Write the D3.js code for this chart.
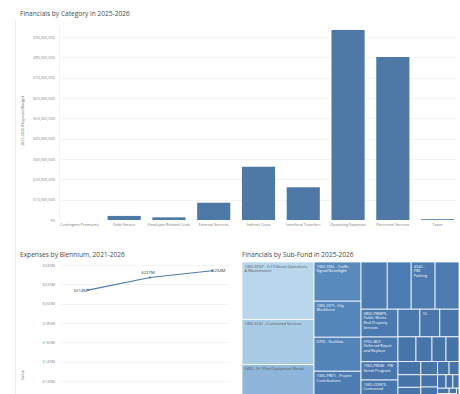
<!DOCTYPE html>
<html><head><meta charset="utf-8">
<script src="https://cdn.jsdelivr.net/npm/d3@7"></script>
<style>
html,body{margin:0;padding:0;background:#fff;overflow:hidden}
svg{display:block;font-family:"Open Sans",sans-serif}
</style></head><body>
<svg id="c" width="460" height="394"></svg>
<script>
// ---- data ----
const categories = ["Contingent Premiums","Debt Service","Employee Related Costs","External Services","Indirect Costs","Interfund Transfers","Operating Expenses","Personnel Services","Taxes"];
const budgetValues = [0, 2000000, 1300000, 8500000, 26200000, 16100000, 93500000, 80200000, 400000];
const budgetTicks = [0,10000000,20000000,30000000,40000000,50000000,60000000,70000000,80000000,90000000];

const biennia = ["2021-2022","2023-2024","2025-2026"];
const expenses = [214, 227, 234]; // $M
const expenseTicks = [120,140,160,180,200,220,240];

const subFundNames = [
 "1065-STOP - Fr13 Street Operations & Maintenance",
 "1065-ECS1 - Contracted Services",
 "0400 - Fr1 Fleet Equipment Rental",
 "1060-TSSL - Traffic Signal/Streetlight",
 "1065-CITY - City Workforce",
 "0700 - Facilities",
 "1065-PRD1 - Project Contributions",
 "", "", "4340 - PBE Parking", "",
 "0800-PWBPS - Public Works Real Property Services",
 "0702-BDF - Deferred Repair and Replace",
 "1060-PRGM - PW Street Program",
 "1060-CONTS - Contracted",
 "", "10-", "",
 "", "", "", "",
 "", "", "", "", "", "", "", "", "", "", "", "", "", "", "", ""
];
const subFundValues = [4044,3194,2345,1801,1659,1564,1232,1210,1104,1104,1104,1007,895,660,650,594,540,520,432,384,336,312,300,280,240,220,200,180,150,130,110,90,80,60,50,40,30,25];

// ---- drawing ----
const svg = d3.select("#c");
const titleColor = "#4a4a4a";

// dashboard divider
svg.append("line").attr("x1",15.5).attr("x2",15.5).attr("y1",20).attr("y2",394).attr("stroke","#ececec");

// ===== Top bar chart =====
svg.append("text").attr("x",20).attr("y",16).attr("font-size",6.6).attr("fill",titleColor).text("Financials by Category in 2025-2026");

const xTop = d3.scaleBand().domain(categories).range([57,460]).paddingInner(0.26).paddingOuter(0.13);
const yTop = d3.scaleLinear().domain([0,95000000]).range([220,26.9]);

const gy = svg.append("g").attr("transform","translate(59,0)")
  .call(d3.axisLeft(yTop).tickValues(budgetTicks).tickSize(0).tickPadding(4)
    .tickFormat(d => "$" + d3.format(",")(d)));
gy.select(".domain").remove();
gy.selectAll("text").attr("font-size",3.9).attr("fill","#888").attr("font-family","'Open Sans',sans-serif");
svg.append("g").selectAll("line").data(budgetTicks.filter(d=>d>0)).join("line")
  .attr("x1",60).attr("x2",457).attr("y1",d=>Math.round(yTop(d))+0.5).attr("y2",d=>Math.round(yTop(d))+0.5)
  .attr("stroke","#f1f1f1").attr("stroke-width",0.8);
svg.append("line").attr("x1",59.5).attr("x2",59.5).attr("y1",26).attr("y2",220).attr("stroke","#f3f3f3");

svg.append("g").selectAll("rect").data(categories).join("rect")
  .attr("x",d=>xTop(d)).attr("width",xTop.bandwidth())
  .attr("y",(d,i)=>yTop(budgetValues[i])).attr("height",(d,i)=>yTop(0)-yTop(budgetValues[i]))
  .attr("fill","#4e79a7");

const gx = svg.append("g").attr("transform","translate(0,220)")
  .call(d3.axisBottom(xTop).tickSize(0).tickPadding(3));
gx.select(".domain").remove();
gx.selectAll("text").attr("font-size",3.8).attr("fill","#777").attr("font-family","'Open Sans',sans-serif");

svg.append("text").attr("transform","translate(24,121) rotate(-90)").attr("text-anchor","middle")
  .attr("font-size",3.8).attr("fill","#666").text("2025-2026 Proposed Budget");

// ===== Bottom-left line chart =====
svg.append("text").attr("x",20).attr("y",257).attr("font-size",6.6).attr("fill",titleColor).text("Expenses by Biennium, 2021-2026");
const xL = d3.scalePoint().domain(biennia).range([57,243]).padding(0.5);
const yL = d3.scaleLinear().domain([100,240]).range([400.3,265]);
const gyl = svg.append("g").attr("transform","translate(59,0)")
  .call(d3.axisLeft(yL).tickValues(expenseTicks).tickSize(0).tickPadding(4).tickFormat(d=>"$"+d+"M"));
gyl.select(".domain").remove();
gyl.selectAll("text").attr("font-size",3.9).attr("fill","#888").attr("font-family","'Open Sans',sans-serif");
svg.append("g").selectAll("line").data(expenseTicks).join("line")
  .attr("x1",60).attr("x2",230).attr("y1",d=>Math.round(yL(d))+0.5).attr("y2",d=>Math.round(yL(d))+0.5)
  .attr("stroke","#f1f1f1").attr("stroke-width",0.8);
svg.append("text").attr("transform","translate(24,375) rotate(-90)").attr("text-anchor","middle")
  .attr("font-size",3.8).attr("fill","#666").text("Value");

svg.append("path").datum(expenses)
  .attr("d", d3.line().x((d,i)=>xL(biennia[i])).y(d=>yL(d)))
  .attr("fill","none").attr("stroke","#4e79a7").attr("stroke-width",1.1);
svg.append("g").selectAll("circle").data(expenses).join("circle")
  .attr("cx",(d,i)=>xL(biennia[i])).attr("cy",d=>yL(d)).attr("r",1.1).attr("fill","#4e79a7");
const anchors = ["end","middle","start"];
const dx = [-1,-2,0], dy = [1.4,-3.5,1.4];
svg.append("g").selectAll("text").data(expenses).join("text")
  .attr("x",(d,i)=>xL(biennia[i])+dx[i]).attr("y",(d,i)=>yL(d)+dy[i])
  .attr("text-anchor",(d,i)=>anchors[i]).attr("font-size",4.2).attr("fill","#333")
  .text(d=>"$"+d+"M");

// ===== Bottom-right treemap =====
svg.append("text").attr("x",242).attr("y",257).attr("font-size",6.6).attr("fill",titleColor).text("Financials by Sub-Fund in 2025-2026");

const root = d3.hierarchy({children: subFundValues.map((v,i)=>({name: subFundNames[i], value: v}))})
  .sum(d => d.value || 0);
d3.treemap().tile(d3.treemapSquarify).size([217,136]).round(false)(root);
const color = d3.scaleLinear().domain([300,1300,1900,2345,3194,4044])
  .range(["#4674a9","#4d7db3","#5b8cc0","#8db6da","#a8cae5","#b8d6ec"]).clamp(true);

const tg = svg.append("g").attr("transform","translate(242,262)");
const cells = tg.selectAll("g").data(root.leaves()).join("g");
cells.append("rect").attr("x",d=>d.x0).attr("y",d=>d.y0)
  .attr("width",d=>d.x1-d.x0).attr("height",d=>d.y1-d.y0)
  .attr("fill",d=>color(d.value)).attr("stroke","#fff").attr("stroke-width",0.8);

const fs = 3.8, lh = 4.8;
cells.each(function(d){
  if(!d.data.name) return;
  const g = d3.select(this);
  const w = d.x1 - d.x0 - 7;
  const light = d.value > 2000;
  const t = g.append("text").attr("font-size",fs).attr("fill", light ? "#555" : "#fff");
  const words = d.data.name.split(" ");
  let lines = [], cur = "";
  const meas = g.append("text").attr("font-size",fs).attr("visibility","hidden");
  words.forEach(wd => {
    const test = cur ? cur + " " + wd : wd;
    meas.text(test);
    if (meas.node().getComputedTextLength() > w && cur) { lines.push(cur); cur = wd; }
    else cur = test;
  });
  if (cur) lines.push(cur);
  meas.remove();
  lines.forEach((ln,i)=>{
    t.append("tspan").attr("x",d.x0+2.5).attr("y",d.y0+5.5+i*lh).text(ln);
  });
});
</script>
</body></html>
